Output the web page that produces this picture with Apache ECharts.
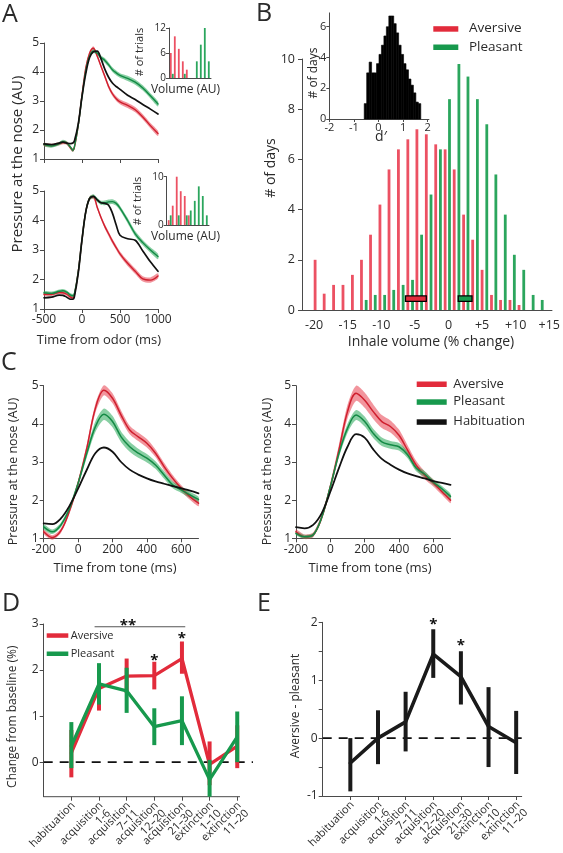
<!DOCTYPE html>
<html><head><meta charset="utf-8">
<script src="https://cdn.jsdelivr.net/npm/echarts@6/dist/echarts.min.js"></script>
<style>html,body{margin:0;padding:0;background:#fff}#c{width:563px;height:853px}</style>
</head><body><div id="c"></div>
<script>
// ================= DATA =================
// Panel A (pressure traces, time from odor in ms)
const aTime = [-500,-400,-300,-250,-200,-150,-120,-100,-50,0,50,100,150,200,250,300,350,400,450,500,600,700,800,900,1000];
const aTopBlack = [1.52,1.5,1.55,1.58,1.55,1.53,1.55,1.62,2.2,3.15,3.95,4.5,4.7,4.72,4.45,4.1,3.82,3.62,3.5,3.4,3.2,3.05,2.88,2.72,2.55];
const aTopRed   = [1.5,1.47,1.53,1.57,1.55,1.38,1.3,1.4,2.15,3.2,4.15,4.65,4.82,4.55,4.2,3.85,3.5,3.25,3.08,2.97,2.85,2.7,2.45,2.15,1.88];
const aTopGreen = [1.5,1.45,1.53,1.6,1.55,1.4,1.3,1.42,2.15,3.15,4.05,4.55,4.72,4.65,4.5,4.4,4.25,4.08,3.97,3.88,3.78,3.65,3.45,3.18,2.9];
const aBotBlack = [1.38,1.4,1.47,1.46,1.4,1.33,1.33,1.42,2.2,3.35,4.3,4.75,4.82,4.7,4.6,4.58,4.52,4.25,3.85,3.5,3.38,3.33,2.97,2.6,2.28];
const aBotRed   = [1.5,1.5,1.56,1.55,1.5,1.4,1.37,1.48,2.25,3.35,4.3,4.75,4.8,4.45,4.1,3.8,3.55,3.3,3.08,2.87,2.55,2.28,2.02,1.98,2.12];
const aBotGreen = [1.55,1.53,1.6,1.62,1.57,1.47,1.45,1.52,2.25,3.35,4.3,4.75,4.82,4.7,4.6,4.6,4.63,4.64,4.58,4.42,4.0,3.55,3.25,3.0,2.78];
const aErr      = [0.06,0.06,0.06,0.06,0.06,0.06,0.06,0.06,0.07,0.07,0.07,0.07,0.07,0.07,0.07,0.08,0.08,0.08,0.08,0.08,0.09,0.09,0.09,0.09,0.09];
const aXTicks = [-500,0,500,1000];
// Panel A insets (# of trials per volume bin)
const insBins = [0,1,2,3,4,5,6,7,8,9];
const insTopRed   = [6,10,7,4,2,0,0,0,0,0];
const insTopGreen = [1,0,0,1,0,0,4,8,12,4];
const insBotRed   = [1,4,10,7,6,2,0,0,0,0];
const insBotGreen = [2,0,2,0,2,3,5,8,6,2];
const insTopTicks = [0,6,12];
const insBotTicks = [0,10];

// Panel B (histogram of inhale volume % change)
const bRedX = [-19.85,-18.5,-17.1,-15.7,-14.3,-12.95,-11.6,-10.2,-8.85,-7.45,-6.05,-4.7,-3.3,-1.9,-0.5,0.85,2.25,3.6,5.0,6.4,7.75,9.15,10.5];
const bRedY = [2.0,0.65,1.0,1.0,1.4,2.0,3.0,4.2,5.6,6.4,6.8,7.2,7.0,6.6,6.4,5.6,3.8,2.8,1.6,0.6,0.4,0.4,0.2];
const bGreenX = [-12.25,-10.9,-9.5,-8.15,-6.75,-5.35,-4.0,-2.6,-1.2,0.15,1.55,2.9,4.3,5.7,7.05,8.45,9.8,11.2,12.6,13.95];
const bGreenY = [0.4,0.6,0.6,0.8,1.0,1.2,3.0,4.6,6.4,8.4,9.8,9.3,8.4,7.4,5.4,3.8,2.2,1.6,0.6,0.4];
const bMeanBoxes = [[-6.4,-3.3,0.45,'red'],[1.45,3.5,0.45,'green']];
const bXTicks = [-20,-15,-10,-5,0,5,10,15];
// Panel B inset (d' histogram)
const dPrimeCenters = [-0.53,-0.43,-0.33,-0.23,-0.13,-0.03,0.07,0.17,0.27,0.37,0.47,0.57,0.67,0.77,0.87,0.97,1.07,1.17,1.27,1.37,1.47,1.57,1.67];
const dPrimeCounts  = [1.0,3.0,3.7,3.0,3.0,3.6,4.2,4.8,5.4,6.0,6.7,6.7,6.2,5.6,4.8,4.2,3.6,3.2,2.6,2.2,1.7,1.1,1.0];
const dPrimeBinWidth = 0.1;
const dPrimeXTicks = [-2,-1,0,1,2];
const dPrimeYTicks = [0,2,4,6];

// Panel C (time from tone in ms)
const cTime = [-200,-150,-100,-50,0,50,100,150,200,250,300,350,400,450,500,550,600,650,700];
const cLRed      = [1.17,1.02,1.2,1.72,2.44,3.35,4.4,4.88,4.67,4.23,3.84,3.66,3.49,3.23,2.88,2.57,2.31,2.09,1.92];
const cLRedErr   = [0.06,0.06,0.06,0.07,0.08,0.1,0.12,0.13,0.13,0.12,0.11,0.11,0.11,0.1,0.1,0.09,0.08,0.08,0.08];
const cLGreen    = [1.3,1.17,1.35,1.78,2.44,3.22,3.92,4.25,4.06,3.66,3.4,3.23,3.1,2.92,2.66,2.4,2.27,2.14,2.02];
const cLGreenErr = [0.06,0.06,0.06,0.07,0.08,0.11,0.14,0.15,0.15,0.14,0.13,0.12,0.11,0.1,0.1,0.09,0.08,0.08,0.07];
const cLBlack    = [1.39,1.37,1.52,1.85,2.3,2.79,3.23,3.38,3.27,3.0,2.8,2.67,2.57,2.49,2.43,2.37,2.31,2.25,2.18];
const cRRed      = [1.17,1.04,1.09,1.55,2.35,3.31,4.32,4.8,4.62,4.32,4.06,3.93,3.7,3.31,2.92,2.65,2.45,2.22,2.0];
const cRRedErr   = [0.06,0.06,0.06,0.08,0.1,0.14,0.18,0.2,0.2,0.19,0.17,0.16,0.15,0.13,0.11,0.1,0.09,0.08,0.08];
const cRGreen    = [1.13,1.04,1.09,1.55,2.35,3.22,3.88,4.23,4.06,3.75,3.53,3.45,3.4,3.19,2.84,2.68,2.47,2.3,2.1];
const cRGreenErr = [0.05,0.05,0.05,0.06,0.08,0.1,0.12,0.13,0.13,0.12,0.11,0.1,0.1,0.09,0.08,0.08,0.07,0.07,0.07];
const cRBlack    = [1.29,1.26,1.35,1.66,2.22,2.84,3.4,3.73,3.64,3.33,3.08,2.93,2.8,2.7,2.63,2.57,2.5,2.45,2.4];
const cXTicks = [-200,0,200,400,600];

// Panels D and E
const phases = ['habituation','acquisition\n1-6','acquisition\n7–11','acquisition\n12–20','acquisition\n21–30','extinction\n1–10','extinction\n11–20'];
const phaseIdx = [0,1,2,3,4,5,6];
const dRedMean   = [0.2,1.6,1.87,1.88,2.25,-0.05,0.35];
const dRedLo     = [-0.33,1.12,1.5,1.58,1.92,-0.5,-0.13];
const dRedHi     = [0.7,2.05,2.25,2.18,2.62,0.45,0.8];
const dGreenMean = [0.35,1.7,1.55,0.77,0.9,-0.38,0.55];
const dGreenLo   = [-0.13,1.25,1.07,0.37,0.37,-0.75,0.0];
const dGreenHi   = [0.87,2.15,2.05,1.17,1.43,0.05,1.1];
const dStars = [[3,2.3,'*'],[4,2.78,'*'],[2.05,3.05,'**']];
const dBracket = [[0.84,4.12,2.94]];
const dYTicks = [0,1,2,3];
const eMean = [-0.43,0.0,0.28,1.45,1.06,0.2,-0.08];
const eLo   = [-0.92,-0.45,-0.23,1.04,0.58,-0.5,-0.62];
const eHi   = [0.0,0.48,0.8,1.88,1.5,0.88,0.47];
const eStars = [[3,2.03,'*'],[4,1.66,'*']];

// ================= STYLE =================
const FONT = '"Open Sans", "Noto Sans", sans-serif';
const TXT = '#2a2a2a';
const AXC = '#4a4a4a';
const RED = '#e22b3b', GREEN = '#17994d';
const RED_LINE = '#cf1f2e', GREEN_LINE = '#138a45';
const RED_BAND = 'rgba(232,62,76,0.55)', GREEN_BAND = 'rgba(38,168,88,0.55)';
const RED_BAR = '#ec5163', GREEN_BAR = '#2ba65d';

function merge(a, b) {
  const out = Object.assign({}, a);
  for (const k in b) {
    if (b[k] && typeof b[k] === 'object' && !Array.isArray(b[k]) && a[k] && typeof a[k] === 'object') out[k] = merge(a[k], b[k]);
    else out[k] = b[k];
  }
  return out;
}
function ax(gi, min, max, extra) {
  return merge({
    type: 'value', gridIndex: gi, min: min, max: max,
    axisLine: {show: true, onZero: false, lineStyle: {color: AXC, width: 1}},
    axisTick: {show: true, length: 4, lineStyle: {color: AXC}},
    axisLabel: {show: true, fontSize: 12, color: TXT, fontFamily: FONT, margin: 5, hideOverlap: false, formatter: v => String(v)},
    splitLine: {show: false}
  }, extra || {});
}
const zip = (xs, ys) => xs.map((x, i) => [x, ys[i]]);

function line(xi, yi, xs, ys, color, width, z, smooth) {
  return {type: 'line', xAxisIndex: xi, yAxisIndex: yi, data: zip(xs, ys), symbol: 'none',
    smooth: smooth === undefined ? 0.35 : smooth, lineStyle: {color: color, width: width, cap: 'round', join: 'round'},
    silent: true, animation: false, z: z || 3};
}
// shaded +/- error band drawn as a polygon through the axis scales
function band(xi, yi, xs, mean, err, color) {
  return {type: 'custom', xAxisIndex: xi, yAxisIndex: yi, data: xs.map((x, i) => [x, mean[i] - err[i], mean[i] + err[i]]),
    silent: true, animation: false, z: 1,
    renderItem: (p, api) => {
      if (p.dataIndex !== 0) return null;
      const up = xs.map((x, i) => api.coord([x, mean[i] + err[i]]));
      const lo = xs.map((x, i) => api.coord([x, mean[i] - err[i]])).reverse();
      return {type: 'polygon', shape: {points: up.concat(lo), smooth: 0.25}, style: {fill: color}};
    }};
}
function bars(xi, yi, xs, ys, offset, width, color, z) {
  return {type: 'custom', xAxisIndex: xi, yAxisIndex: yi, data: zip(xs, ys), silent: true, animation: false, z: z || 2,
    renderItem: (p, api) => {
      const b = api.coord([api.value(0), 0]);
      const t = api.coord([api.value(0), api.value(1)]);
      return {type: 'rect', shape: {x: b[0] + offset - width / 2, y: t[1], width: width, height: b[1] - t[1]}, style: {fill: color}};
    }};
}
function histBars(xi, yi, xs, ys, bw, color) {
  return {type: 'custom', xAxisIndex: xi, yAxisIndex: yi, data: zip(xs, ys), silent: true, animation: false, z: 2,
    renderItem: (p, api) => {
      const a = api.coord([api.value(0) - bw / 2, api.value(1)]);
      const b = api.coord([api.value(0) + bw / 2, 0]);
      return {type: 'rect', shape: {x: a[0], y: a[1], width: b[0] - a[0], height: b[1] - a[1]}, style: {fill: color, stroke: color, lineWidth: 0.6}};
    }};
}
function errBars(xi, yi, xs, lo, hi, color, width, z) {
  return {type: 'custom', xAxisIndex: xi, yAxisIndex: yi, data: xs.map((x, i) => [x, lo[i], hi[i]]), silent: true, animation: false, z: z || 4,
    renderItem: (p, api) => {
      const a = api.coord([api.value(0), api.value(2)]);
      const b = api.coord([api.value(0), api.value(1)]);
      return {type: 'rect', shape: {x: a[0] - width / 2, y: a[1], width: width, height: b[1] - a[1]}, style: {fill: color}};
    }};
}
function textMarks(xi, yi, rows, size) {
  return {type: 'custom', xAxisIndex: xi, yAxisIndex: yi, data: rows.map(r => [r[0], r[1]]), silent: true, animation: false, z: 6,
    renderItem: (p, api) => {
      const c = api.coord([api.value(0), api.value(1)]);
      const s = rows[p.dataIndex][2];
      return {type: 'text', x: c[0], y: c[1] + size * 0.28, style: {text: s, fontSize: size, fontWeight: 'bold', fontFamily: FONT, fill: '#111',
        textAlign: 'center', align: 'center', textVerticalAlign: 'middle', verticalAlign: 'middle'}};
    }};
}
// rotated category labels under the D/E x axes, placed at each phase's tick
function phaseLabels(xi, yi, yBottom) {
  return {type: 'custom', xAxisIndex: xi, yAxisIndex: yi, data: phaseIdx.map(i => [i, yBottom]), silent: true, animation: false, z: 6, clip: false,
    renderItem: (p, api) => {
      const c = api.coord([api.value(0), api.value(1)]);
      return {type: 'text', x: c[0] + 2, y: c[1] + 7, rotation: Math.PI / 4,
        style: {text: phases[p.dataIndex], x: 0, y: -5.5, fontSize: 11, lineHeight: 11, fontFamily: FONT, fill: TXT,
          textAlign: 'right', align: 'right', textVerticalAlign: 'top', verticalAlign: 'top'}};
    }};
}
function segs(xi, yi, rows, color, width, dash, z) {
  return {type: 'custom', xAxisIndex: xi, yAxisIndex: yi, data: rows, silent: true, animation: false, z: z || 1,
    renderItem: (p, api) => {
      const a = api.coord([api.value(0), api.value(1)]);
      const b = api.coord([api.value(2), api.value(3)]);
      return {type: 'line', shape: {x1: a[0], y1: a[1], x2: b[0], y2: b[1]}, style: {stroke: color, lineWidth: width, lineDash: dash || null}};
    }};
}
function boxes(xi, yi, rows) {
  return {type: 'custom', xAxisIndex: xi, yAxisIndex: yi, data: rows.map(r => [r[0], r[2], r[1]]), silent: true, animation: false, z: 5,
    renderItem: (p, api) => {
      const a = api.coord([api.value(0), api.value(1)]);
      const b = api.coord([api.value(2), api.value(1)]);
      const h = 5.5;
      return {type: 'rect', shape: {x: a[0], y: a[1] - h / 2, width: b[0] - a[0], height: h},
        style: {fill: rows[p.dataIndex][3] === 'red' ? RED : GREEN, stroke: '#000', lineWidth: 1.3}};
    }};
}

// ================= AXES =================
const grids = [
  {left: 44, top: 43, width: 114, height: 116},       // 0 A top
  {left: 44, top: 191, width: 114, height: 118},      // 1 A bottom
  {left: 169, top: 28, width: 42, height: 50},        // 2 A inset top
  {left: 166.7, top: 176.7, width: 42.3, height: 48.3}, // 3 A inset bottom
  {left: 302, top: 59, width: 251.5, height: 251},    // 4 B main
  {left: 329.3, top: 12.9, width: 99.6, height: 106.1}, // 5 B inset
  {left: 43.7, top: 385.7, width: 154.8, height: 152.6}, // 6 C left
  {left: 296, top: 385.7, width: 154.5, height: 152.6},  // 7 C right
  {left: 43.7, top: 624, width: 209.3, height: 172.7},   // 8 D
  {left: 322.7, top: 622.3, width: 199, height: 173.7}   // 9 E
];
const xAxes = [
  ax(0, -500, 1000, {axisTick: {customValues: aXTicks}, axisLabel: {show: false}}),
  ax(1, -500, 1000, {axisTick: {customValues: aXTicks}, axisLabel: {customValues: aXTicks}}),
  ax(2, -0.7, 9.8, {axisTick: {show: false}, axisLabel: {show: false}}),
  ax(3, -0.75, 9.8, {axisTick: {show: false}, axisLabel: {show: false}}),
  ax(4, -21.8, 15.4, {axisTick: {show: false}, axisLabel: {customValues: bXTicks, fontSize: 12.5, margin: 9, formatter: v => v > 0 ? '+' + v : String(v)}}),
  ax(5, -2, 2.05, {axisTick: {customValues: dPrimeXTicks, length: 3}, axisLabel: {customValues: dPrimeXTicks, fontSize: 11, margin: 3}}),
  ax(6, -200, 700, {axisTick: {customValues: cXTicks}, axisLabel: {customValues: cXTicks}}),
  ax(7, -200, 700, {axisTick: {customValues: cXTicks}, axisLabel: {customValues: cXTicks}}),
  ax(8, -1, 6.57, {axisLine: {show: false}, axisTick: {customValues: phaseIdx, length: 4}, axisLabel: {show: false}}),
  ax(9, -1, 6.2, {axisTick: {customValues: phaseIdx, length: 4}, axisLabel: {show: false}})
];
const yAxes = [
  ax(0, 1, 5, {interval: 1}),
  ax(1, 1, 5, {interval: 1}),
  ax(2, 0, 12, {axisTick: {customValues: insTopTicks, length: 3}, axisLabel: {customValues: insTopTicks, fontSize: 10, margin: 3}}),
  ax(3, 0, 10, {axisTick: {customValues: insBotTicks, length: 3}, axisLabel: {customValues: insBotTicks, fontSize: 10, margin: 3}}),
  ax(4, 0, 10, {interval: 2, axisLabel: {fontSize: 12.5, margin: 7}}),
  ax(5, 0, 6.9, {axisTick: {customValues: dPrimeYTicks, length: 3}, axisLabel: {customValues: dPrimeYTicks, fontSize: 11, margin: 3}}),
  ax(6, 1, 5, {interval: 1}),
  ax(7, 1, 5, {interval: 1}),
  ax(8, -0.75, 3, {axisTick: {customValues: dYTicks}, axisLabel: {customValues: dYTicks}}),
  ax(9, -1, 2, {interval: 0.5, axisLabel: {formatter: v => Number.isInteger(v) ? String(v) : ''}})
];

// ================= SERIES =================
const series = [];
// A
[[0, aTopBlack, aTopRed, aTopGreen], [1, aBotBlack, aBotRed, aBotGreen]].forEach(([g, bk, rd, gr]) => {
  series.push(band(g, g, aTime, rd, aErr, RED_BAND));
  series.push(band(g, g, aTime, gr, aErr, GREEN_BAND));
  series.push(line(g, g, aTime, rd, RED_LINE, 1.4, 3));
  series.push(line(g, g, aTime, gr, GREEN_LINE, 1.4, 3));
  series.push(line(g, g, aTime, bk, '#111', 1.7, 4));
});
series.push(bars(2, 2, insBins, insTopRed, -1, 1.8, RED_BAR));
series.push(bars(2, 2, insBins, insTopGreen, 1, 1.8, GREEN_BAR));
series.push(bars(3, 3, insBins, insBotRed, -1, 1.8, RED_BAR));
series.push(bars(3, 3, insBins, insBotGreen, 1, 1.8, GREEN_BAR));
// B
series.push(bars(4, 4, bRedX, bRedY, 0, 2.8, RED_BAR));
series.push(bars(4, 4, bGreenX, bGreenY, 0, 2.8, GREEN_BAR));
series.push(boxes(4, 4, bMeanBoxes));
series.push(histBars(5, 5, dPrimeCenters, dPrimeCounts, dPrimeBinWidth, '#000'));
// C
[[6, cLRed, cLRedErr, cLGreen, cLGreenErr, cLBlack], [7, cRRed, cRRedErr, cRGreen, cRGreenErr, cRBlack]].forEach(([g, rd, re, gr, ge, bk]) => {
  series.push(band(g, g, cTime, rd, re, RED_BAND));
  series.push(band(g, g, cTime, gr, ge, GREEN_BAND));
  series.push(line(g, g, cTime, rd, RED_LINE, 1.5, 3));
  series.push(line(g, g, cTime, gr, GREEN_LINE, 1.5, 3));
  series.push(line(g, g, cTime, bk, '#111', 1.8, 4));
});
// D
series.push(segs(8, 8, [[-1, 0, 6.57, 0]], '#111', 1.6, [9, 7], 1));
series.push(segs(8, 8, [[-1, -0.75, 6.1, -0.75]], AXC, 1, null, 1));
series.push(line(8, 8, phaseIdx, dRedMean, RED, 3.3, 3, false));
series.push(errBars(8, 8, phaseIdx, dRedLo, dRedHi, RED, 4, 3));
series.push(line(8, 8, phaseIdx, dGreenMean, GREEN, 3.3, 4, false));
series.push(errBars(8, 8, phaseIdx, dGreenLo, dGreenHi, GREEN, 4, 4));
series.push(segs(8, 8, dBracket.map(r => [r[0], r[2], r[1], r[2]]), '#555', 1.2, null, 2));
series.push(textMarks(8, 8, dStars, 15));
series.push(phaseLabels(8, 8, -0.75));
// E
series.push(segs(9, 9, [[-1, 0, 6.2, 0]], '#111', 1.6, [9, 7], 1));
series.push(line(9, 9, phaseIdx, eMean, '#1a1a1a', 3.6, 3, false));
series.push(errBars(9, 9, phaseIdx, eLo, eHi, '#1a1a1a', 4, 3));
series.push(textMarks(9, 9, eStars, 15));
series.push(phaseLabels(9, 9, -1));

// ================= TEXT / LEGENDS =================
function T(x, y, text, size, o) {
  o = o || {};
  return {type: 'text', x: x, y: y, rotation: o.rot || 0, silent: true, z: 10,
    style: {text: text, fontSize: size, fontFamily: FONT, fill: o.color || TXT, fontWeight: o.weight || 'normal',
      textAlign: o.align || 'center', align: o.align || 'center', textVerticalAlign: 'middle', verticalAlign: 'middle'}};
}
function R(x, y, w, h, color) { return {type: 'rect', silent: true, z: 10, shape: {x: x, y: y, width: w, height: h}, style: {fill: color}}; }
const ROT = Math.PI / 2;
const graphics = [
  T(2, 15, 'A', 25, {align: 'left'}), T(256, 14, 'B', 25, {align: 'left'}), T(1, 363, 'C', 25, {align: 'left'}),
  T(2, 604, 'D', 25, {align: 'left'}), T(257, 604, 'E', 25, {align: 'left'}),
  T(17.5, 164, 'Pressure at the nose (AU)', 15, {rot: ROT}),
  T(99, 340, 'Time from odor (ms)', 13),
  T(140, 52, '# of trials', 11, {rot: ROT}), T(138, 201, '# of trials', 11, {rot: ROT}),
  T(185.5, 89.5, 'Volume (AU)', 12), T(185.5, 237, 'Volume (AU)', 12),
  T(271, 168, '# of days', 14, {rot: ROT}),
  T(431, 342, 'Inhale volume (% change)', 14),
  T(314, 73, '# of days', 12, {rot: ROT}),
  T(381, 137, 'd′', 14),
  R(433.3, 26.2, 25, 5.5, RED), T(469, 28.5, 'Aversive', 13.5, {align: 'left'}),
  R(433.3, 44.5, 25, 5.5, GREEN), T(469, 47, 'Pleasant', 13.5, {align: 'left'}),
  T(13, 471.5, 'Pressure at the nose (AU)', 12.5, {rot: ROT}),
  T(267, 471.5, 'Pressure at the nose (AU)', 12.5, {rot: ROT}),
  T(115, 568, 'Time from tone (ms)', 13), T(370, 568, 'Time from tone (ms)', 13),
  R(416.7, 381.5, 30, 5.5, RED), T(453.3, 384, 'Aversive', 13, {align: 'left'}),
  R(416.7, 399.3, 30, 5.5, GREEN), T(453.3, 401.7, 'Pleasant', 13, {align: 'left'}),
  R(416.7, 419.3, 30, 5.5, '#111'), T(453.3, 421.7, 'Habituation', 13, {align: 'left'}),
  R(46.7, 633.3, 21.6, 4.5, RED), T(70.7, 636, 'Aversive', 11, {align: 'left'}),
  R(46.7, 651.5, 21.6, 4.5, GREEN), T(70.7, 654, 'Pleasant', 11, {align: 'left'}),
  T(13, 716.7, 'Change from baseline (%)', 12, {rot: ROT}),
  T(296, 706, 'Aversive - pleasant', 12, {rot: ROT})
];

const chart = echarts.init(document.getElementById('c'), null, {renderer: 'canvas', width: 563, height: 853});
chart.setOption({
  animation: false,
  backgroundColor: '#fff',
  textStyle: {fontFamily: FONT},
  grid: grids,
  xAxis: xAxes,
  yAxis: yAxes,
  series: series,
  graphic: {elements: graphics}
});
</script></body></html>
